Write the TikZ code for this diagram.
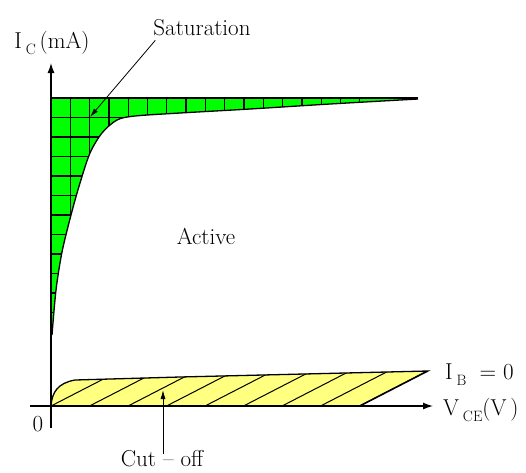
\documentclass[tikz,border=0pt]{standalone}
\usetikzlibrary{arrows.meta}
\definecolor{satgreen}{RGB}{0,255,0}
\definecolor{cutyellow}{RGB}{255,255,128}
\tikzset{
  lbl/.style={font=\fontsize{23}{23}\selectfont, inner sep=0pt},
  axis/.style={line width=1.3pt, -{Latex[length=10pt,width=7pt]}},
  leader/.style={line width=0.8pt, -{Latex[length=9pt,width=5pt]}},
  gridline/.style={line width=1.3pt},
  hatch/.style={line width=1pt}
}
\newcommand{\sbs}[1]{\raisebox{-6pt}{\fontsize{15}{15}\selectfont #1}}
\begin{document}
\begin{tikzpicture}[x=1pt,y=1pt]
\useasboundingbox (0,0) rectangle (526,-472);
% coordinates
\coordinate (O) at (51,-406);
\coordinate (ytop) at (51,-63);
\coordinate (ybot) at (51,-428);
\coordinate (xl) at (30,-406);
\coordinate (xr) at (433,-406);
% saturation region
\def\satpath{(51,-98) -- (418,-98) -- plot[smooth] coordinates {(415,-99) (330,-104) (250,-109) (180,-113) (135,-116) (117,-120) (102,-133) (90,-153) (80,-183) (71,-215) (62,-252) (56,-290) (52,-335)} -- cycle}
\fill[satgreen] \satpath;
\begin{scope}
\clip \satpath;
\foreach \i in {1,...,16} \draw[gridline] ({51+19.3*\i},-90) -- ({51+19.3*\i},-340);
\foreach \j in {1,...,12} \draw[gridline] (45,{-98-19.5*\j}) -- (420,{-98-19.5*\j});
\end{scope}
\draw[line width=1.3pt] (51,-98) -- (418,-98);
\draw[line width=1.3pt] plot[smooth] coordinates {(418,-99) (330,-104) (250,-109) (180,-113) (135,-116) (117,-120) (102,-133) (90,-153) (80,-183) (71,-215) (62,-252) (56,-290) (52,-335)};
% cut-off region
\def\cutpath{(51,-406) -- (360,-406) -- (428,-371) -- (180,-377) -- (75,-380) .. controls (58,-383) and (52,-392) .. (51,-406) -- cycle}
\fill[cutyellow] \cutpath;
\begin{scope}
\clip \cutpath;
\foreach \k in {0,...,8} \draw[hatch] ({51+38.5*\k},-406) -- ++(68,35);
\end{scope}
\draw[line width=1.3pt] (51,-406) -- (360,-406) -- (428,-371) -- (180,-377) -- (75,-380) .. controls (58,-383) and (52,-392) .. (51,-406);
% axes
\draw[axis] (ybot) -- (ytop);
\draw[axis] (xl) -- (xr);
% labels
\node[lbl] (ic) at (52,-43) {I\,\sbs{C}\,(mA)};
\node[lbl] (sat) at (202,-28) {Saturation};
\node[lbl] (act) at (206,-236) {Active};
\node[lbl, anchor=west] (ib) at (445,-375) {I\,\sbs{B}\; = 0};
\node[lbl, anchor=west] (vce) at (443,-410) {V\,\sbs{CE}(V\,)};
\node[lbl] (zero) at (38,-424) {0};
\node[lbl] (cut) at (162,-459) {Cut -- off};
\coordinate (satTip) at (90,-117);
\coordinate (cutTip) at (163,-390);
\draw[leader] (sat.south west) ++(2,-4) -- (satTip);
\draw[leader] (cut.north) ++(1,-3) -- (cutTip);
\end{tikzpicture}
\end{document}
